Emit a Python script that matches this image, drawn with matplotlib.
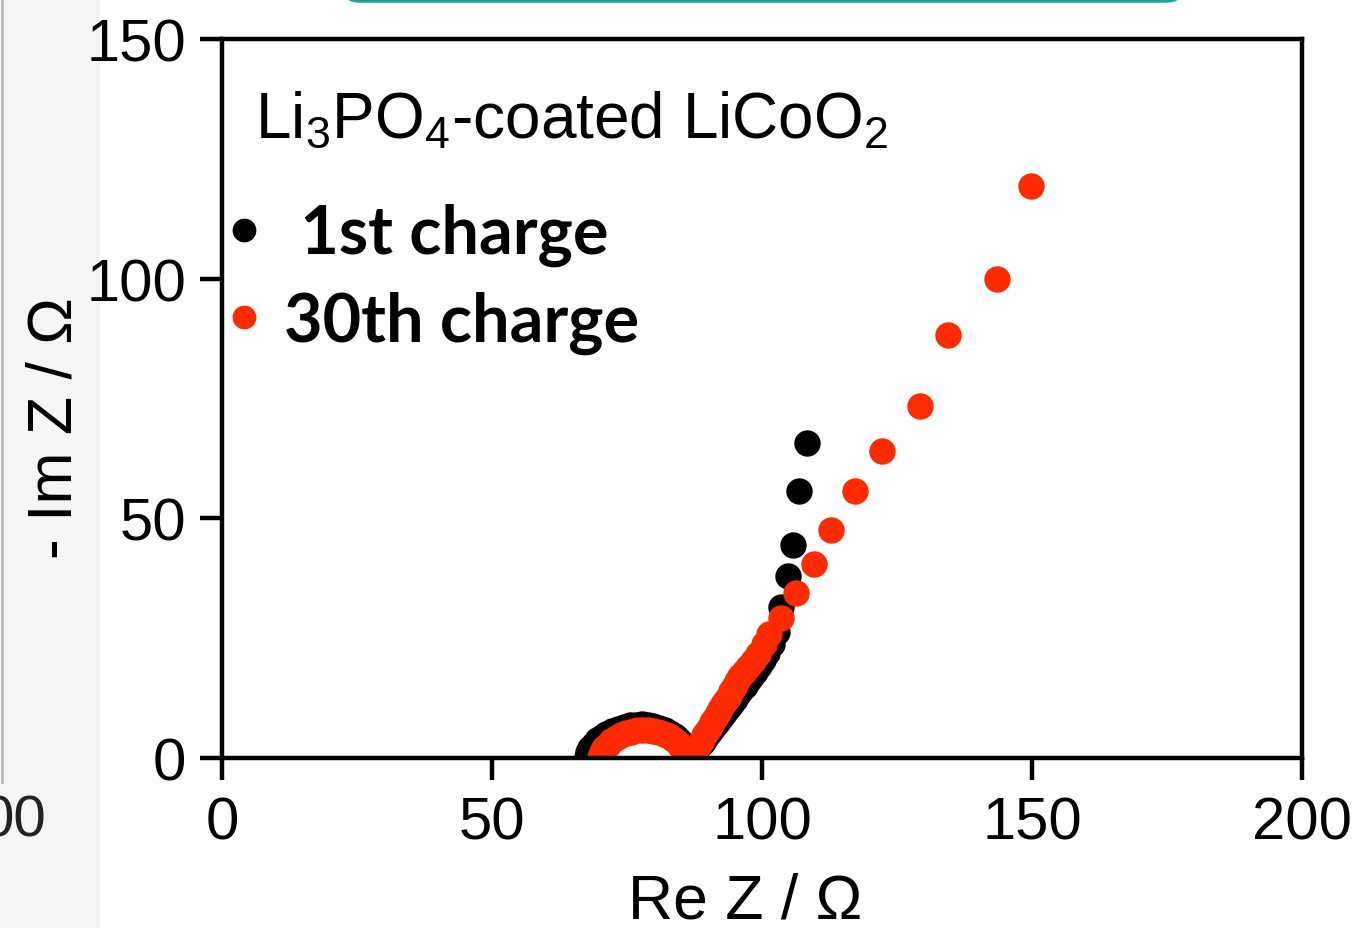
import numpy as np
import matplotlib
matplotlib.use("Agg")
import matplotlib.pyplot as plt
from matplotlib.patches import Rectangle, FancyBboxPatch
from matplotlib.lines import Line2D


# =========================
# DATA (ohm)
# =========================
# 1st charge: semicircle, then diffusion tail
re_1st = [67.6, 67.8, 68.2, 68.8, 69.5, 70.3, 71.2, 72.2, 73.3, 74.4, 75.5, 76.6,
          77.7, 78.8, 79.9, 81.0, 82.0, 83.0, 83.9, 84.7, 85.4, 86.0, 86.5, 86.9,
          87.3, 87.8, 88.4, 89.0, 89.6, 90.2, 90.8, 91.4, 92.0, 92.6, 93.2, 93.8,
          94.4, 95.0, 95.6, 96.2, 96.8, 97.4, 98.0, 98.7, 99.4, 100.2, 101.0, 101.9,
          102.7, 103.5, 104.8, 105.7, 106.8, 108.4]
im_1st = [0.3, 1.2, 2.1, 2.9, 3.7, 4.4, 5.0, 5.6, 6.1, 6.5, 6.8, 6.9,
          7.0, 6.9, 6.7, 6.3, 5.8, 5.2, 4.5, 3.8, 3.0, 2.3, 1.6, 1.0,
          0.8, 1.6, 2.5, 3.4, 4.3, 5.2, 6.1, 7.0, 7.9, 8.8, 9.7, 10.6,
          11.5, 12.4, 13.3, 14.2, 15.1, 16.0, 16.9, 18.0, 19.2, 20.5, 22.0, 23.8,
          26.3, 31.6, 38.0, 44.4, 55.7, 65.7]

# 30th charge
re_30th = [70.0, 70.3, 70.8, 71.4, 72.1, 72.9, 73.8, 74.8, 75.8, 76.8, 77.8, 78.8,
           79.8, 80.8, 81.8, 82.7, 83.5, 84.2, 84.9, 85.5, 86.0, 86.5,
           87.3, 87.8, 88.3, 88.8, 89.3, 89.8, 90.3, 90.8, 91.3, 91.8, 92.3, 92.8,
           93.3, 93.8, 94.3, 94.8, 95.4, 96.0, 96.7, 97.4, 98.3, 99.3, 100.3, 101.3,
           103.6, 106.3, 109.6, 112.8, 117.2, 122.2, 129.3, 134.4, 143.5, 149.8]
im_30th = [0.3, 1.2, 2.0, 2.8, 3.5, 4.1, 4.7, 5.2, 5.5, 5.8, 5.9, 5.9,
           5.7, 5.4, 5.0, 4.5, 3.9, 3.3, 2.6, 1.9, 1.3, 0.8,
           1.0, 1.9, 2.8, 3.8, 4.7, 5.6, 6.5, 7.5, 8.4, 9.3, 10.2, 11.2,
           12.1, 13.0, 13.9, 14.9, 16.0, 17.1, 18.0, 19.0, 20.3, 21.7, 23.7, 25.8,
           29.2, 34.4, 40.5, 47.6, 55.7, 64.1, 73.4, 88.3, 99.9, 119.3]

series_labels = [" 1st charge", "30th charge"]
series_colors = ["#000000", "#ff2a00"]

x_ticks = [0, 50, 100, 150, 200]
y_ticks = [0, 50, 100, 150]


# =========================
# STYLE
# =========================
plt.rcParams["font.family"] = ["Liberation Sans", "DejaVu Sans"]
plt.rcParams["mathtext.fontset"] = "custom"
plt.rcParams["mathtext.rm"] = "Liberation Sans"
plt.rcParams["mathtext.it"] = "Liberation Sans:italic"
plt.rcParams["mathtext.default"] = "regular"


# =========================
# PLOT
# =========================
fig = plt.figure(figsize=(13.64, 9.29), dpi=100)

# bits of the neighbouring panel that got cropped in
fig.patches.append(Rectangle((0, 0), 100 / 1364, 1, transform=fig.transFigure,
                             facecolor="#f5f5f5", edgecolor="none", zorder=-5))
fig.lines.append(Line2D([1.5 / 1364, 1.5 / 1364], [1 - 783 / 929, 1],
                        transform=fig.transFigure, color="#bbbbbb", lw=2,
                        zorder=-4))
fig.text(46 / 1364, 1 - 822 / 929, "00", ha="right", va="center",
         fontsize=42, color="#222222")
fig.patches.append(FancyBboxPatch((346 / 1364, 1 - 2 / 929), 834 / 1364, 0.05,
                                  boxstyle="round,pad=0,rounding_size=0.01",
                                  transform=fig.transFigure, facecolor="white",
                                  edgecolor="#1aa88a", lw=2.5, zorder=-4))

ax = fig.add_axes([222 / 1364, 1 - 759 / 929, 1080 / 1364, 719 / 929])
ax.set_facecolor("none")

ax.plot(re_1st, im_1st, "o", color=series_colors[0], ms=19, mew=0,
        label=series_labels[0])
ax.plot(re_30th, im_30th, "o", color=series_colors[1], ms=19, mew=0,
        label=series_labels[1])

ax.set_xlim(0, 200)
ax.set_ylim(0, 150)
ax.set_xticks(x_ticks)
ax.set_yticks(y_ticks)

for side in ax.spines.values():
    side.set_linewidth(3.2)
ax.tick_params(direction="out", length=16, width=3.2, labelsize=43)
ax.tick_params(axis="y", pad=10)
ax.tick_params(axis="x", pad=11)

ax.set_xlabel("Re Z / Ω", fontsize=45)
ax.set_ylabel("- Im Z / Ω", fontsize=45)
ax.xaxis.set_label_coords(0.484, -0.158)
ax.yaxis.set_label_coords(-0.127, 0.46)

ax.text(0.0306, 0.864, r"Li$_3$PO$_4$-coated LiCoO$_2$", transform=ax.transAxes,
        fontsize=46, va="baseline", ha="left")

ax.legend(loc="upper left", bbox_to_anchor=(0.003, 0.772), frameon=False,
          prop={"family": "Lato", "weight": "bold", "size": 48},
          handlelength=0.55, handletextpad=0.33, labelspacing=0.36,
          borderpad=0, borderaxespad=0, markerscale=0.9)

fig.savefig("out.png", dpi=100)
